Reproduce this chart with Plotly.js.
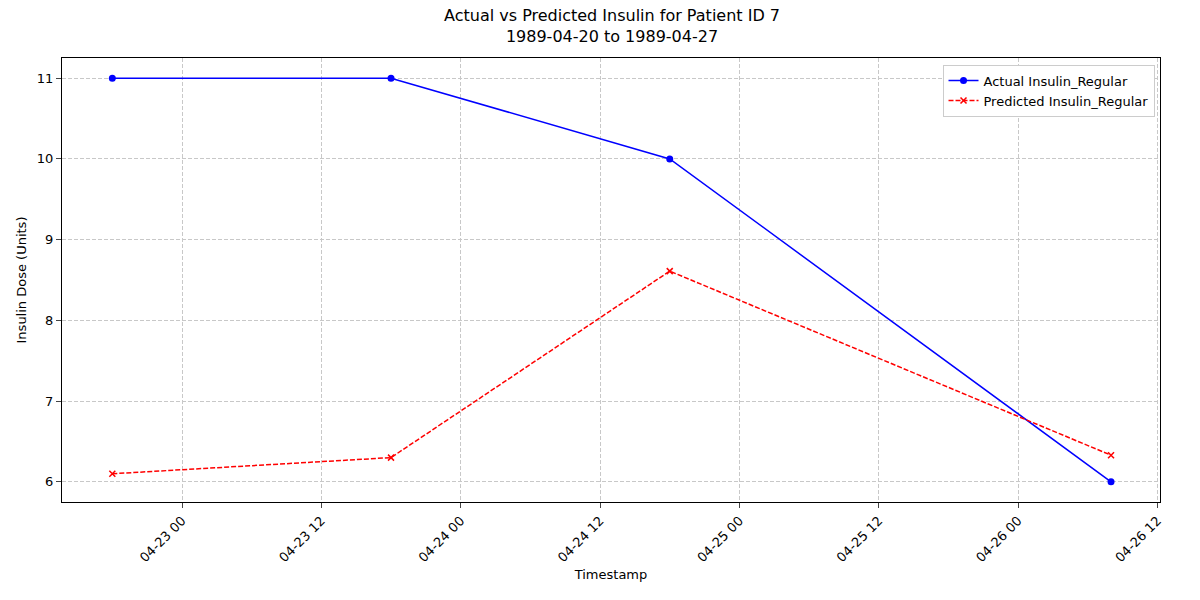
<!DOCTYPE html>
<html>
<head>
<script src="https://cdn.plot.ly/plotly-3.0.1.min.js"></script>
<style>body{margin:0}</style>
</head>
<body>
<div id="plot" style="width:1200px;height:600px"></div>
<script>
var timestamps = ["1989-04-22 18:00", "1989-04-23 18:00", "1989-04-24 18:00", "1989-04-26 08:00"];
var actualDose = [11, 11, 10, 6];
var predictedDose = [6.10, 6.30, 8.61, 6.33];

// actual doses
var trace1 = {
    x: timestamps,
    y: actualDose,
    name: "Actual Insulin_Regular",
    mode: "lines+markers",
    line: {color: "blue", width: 1.5},
    marker: {color: "blue", size: 7}
};

// predicted doses
var trace2 = {
    x: timestamps,
    y: predictedDose,
    name: "Predicted Insulin_Regular",
    mode: "lines+markers",
    line: {color: "red", width: 1.5, dash: "5px,2px"},
    marker: {color: "red", size: 6, symbol: "x-thin", line: {color: "red", width: 1.5}}
};

var layout = {
    width: 1200, height: 600,
    margin: {l: 62, r: 40, t: 58, b: 98},
    font: {family: "DejaVu Sans", size: 12, color: "black"},
    title: {text: "Actual vs Predicted Insulin for Patient ID 7<br>1989-04-20 to 1989-04-27", x: 0.51, y: 0.965, yanchor: "top", font: {size: 16}},
    showlegend: true,
    legend: {x: 0.995, y: 0.985, xanchor: "right", yanchor: "top", bordercolor: "#ccc", borderwidth: 1, font: {size: 13}},
    xaxis: {
        title: {text: "Timestamp", font: {size: 13}},
        type: "date",
        range: ["1989-04-22 13:40", "1989-04-26 12:13"],
        dtick: 12 * 3600 * 1000,
        tick0: "1989-04-23 00:00",
        tickformat: "%m-%d %H",
        tickangle: -45,
        ticks: "outside",
        tickfont: {size: 13},
        showgrid: true, gridcolor: "#c8c8c8", griddash: "4px,2px",
        showline: true, linecolor: "black", mirror: true, zeroline: false
    },
    yaxis: {
        title: {text: "Insulin Dose (Units)", font: {size: 13}},
        range: [5.75, 11.25],
        dtick: 1,
        ticks: "outside",
        tickfont: {size: 13},
        showgrid: true, gridcolor: "#c8c8c8", griddash: "4px,2px",
        showline: true, linecolor: "black", mirror: true, zeroline: false
    },
    plot_bgcolor: "white",
    paper_bgcolor: "white"
};

Plotly.newPlot("plot", [trace1, trace2], layout, {displayModeBar: false});
</script>
</body>
</html>
